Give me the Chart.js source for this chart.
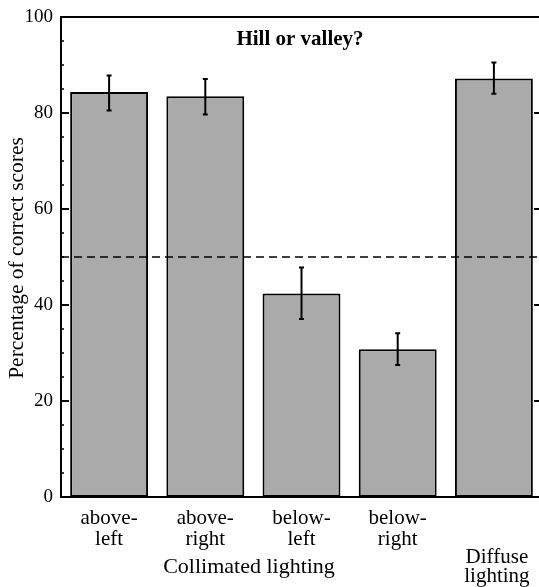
<!DOCTYPE html>
<html>
<head>
<meta charset="utf-8">
<script src="https://cdn.jsdelivr.net/npm/chart.js@4.4.1/dist/chart.umd.min.js"></script>
<style>
html,body{margin:0;padding:0;overflow:hidden;background:#fff;width:539px;height:587px;}
canvas{display:block;}
</style>
</head>
<body>
<canvas id="c" width="545" height="587"></canvas>
<script>
// ---- data ----
const categories = ["above-left", "above-right", "below-left", "below-right", "diffuse"];
const labelLines = [["above-", "left"], ["above-", "right"], ["below-", "left"], ["below-", "right"], []];
const values = [84.4, 83.5, 42.4, 30.8, 87.2];
const errUpper = [87.8, 87.1, 47.8, 34.1, 90.5];
const errLower = [80.5, 79.7, 37.1, 27.5, 84.0];
const chanceLevel = 50;
const yTicks = [0, 20, 40, 60, 80, 100];
const yMinorStep = 5;
const titleText = "Hill or valley?";
const yTitle = "Percentage of correct scores";
const groupLabel = "Collimated lighting";
const diffuseLabel = ["Diffuse", "lighting"];

const SERIF = "'Liberation Serif', 'Times New Roman', serif";

const decor = {
  id: 'decor',
  afterDatasetsDraw(chart) {
    const ctx = chart.ctx;
    const a = chart.chartArea;
    const x = chart.scales.x, y = chart.scales.y;
    ctx.save();
    // error bars
    ctx.strokeStyle = '#000';
    ctx.lineWidth = 2;
    values.forEach((v, i) => {
      const cx = x.getPixelForValue(i);
      const yt = y.getPixelForValue(errUpper[i]);
      const yb = y.getPixelForValue(errLower[i]);
      ctx.beginPath();
      ctx.moveTo(cx, yt); ctx.lineTo(cx, yb);
      ctx.moveTo(cx - 2.5, yt); ctx.lineTo(cx + 2.5, yt);
      ctx.moveTo(cx - 2.5, yb); ctx.lineTo(cx + 2.5, yb);
      ctx.stroke();
    });
    // dashed chance line
    const yc = y.getPixelForValue(chanceLevel);
    ctx.lineWidth = 1.5;
    ctx.setLineDash([8, 5]);
    ctx.beginPath();
    ctx.moveTo(a.left, yc); ctx.lineTo(a.right, yc);
    ctx.stroke();
    ctx.setLineDash([]);
    // frame
    ctx.lineWidth = 2;
    ctx.beginPath();
    ctx.rect(a.left, a.top, a.right - a.left, a.bottom - a.top);
    ctx.stroke();
    // ticks
    for (let v = 0; v <= 100; v += yMinorStep) {
      const py = y.getPixelForValue(v);
      const major = yTicks.includes(v);
      const len = major ? 8 : 3;
      ctx.lineWidth = major ? 2 : 1.5;
      ctx.beginPath();
      ctx.moveTo(a.left, py); ctx.lineTo(a.left + len, py);
      ctx.moveTo(a.right, py); ctx.lineTo(a.right - len, py);
      ctx.stroke();
    }
    // tick labels
    ctx.fillStyle = '#000';
    ctx.font = '19px ' + SERIF;
    ctx.textAlign = 'right';
    ctx.textBaseline = 'middle';
    yTicks.forEach(v => {
      ctx.fillText(String(v), a.left - 8, y.getPixelForValue(v));
    });
    // title
    ctx.font = 'bold 21px ' + SERIF;
    ctx.textAlign = 'center';
    ctx.textBaseline = 'alphabetic';
    ctx.fillText(titleText, 300, 45);
    // y title
    ctx.save();
    ctx.font = '21.5px ' + SERIF;
    ctx.translate(23, 258);
    ctx.rotate(-Math.PI / 2);
    ctx.textAlign = 'center';
    ctx.textBaseline = 'alphabetic';
    ctx.fillText(yTitle, 0, 0);
    ctx.restore();
    // category labels
    ctx.font = '21px ' + SERIF;
    ctx.textAlign = 'center';
    labelLines.forEach((lines, i) => {
      const cx = x.getPixelForValue(i);
      lines.forEach((t, k) => ctx.fillText(t, cx, 524 + k * 21));
    });
    ctx.font = '22px ' + SERIF;
    ctx.fillText(groupLabel, 249, 573);
    ctx.font = '21px ' + SERIF;
    const dx = x.getPixelForValue(4) + 3;
    ctx.fillText(diffuseLabel[0], dx, 563);
    ctx.fillText(diffuseLabel[1], dx, 582);
    ctx.restore();
  }
};

new Chart(document.getElementById('c'), {
  type: 'bar',
  data: {
    labels: categories,
    datasets: [{
      data: values,
      backgroundColor: '#aaaaaa',
      borderColor: '#000',
      borderWidth: 2,
      borderSkipped: false,
      barPercentage: 0.81,
      categoryPercentage: 1.0
    }]
  },
  options: {
    responsive: false,
    animation: false,
    devicePixelRatio: 1,
    layout: { padding: { left: 61, top: 17, right: 3, bottom: 90 } },
    plugins: { legend: { display: false }, tooltip: { enabled: false }, title: { display: false } },
    scales: {
      x: { display: false },
      y: { display: false, min: 0, max: 100 }
    }
  },
  plugins: [decor]
});
</script>
</body>
</html>
